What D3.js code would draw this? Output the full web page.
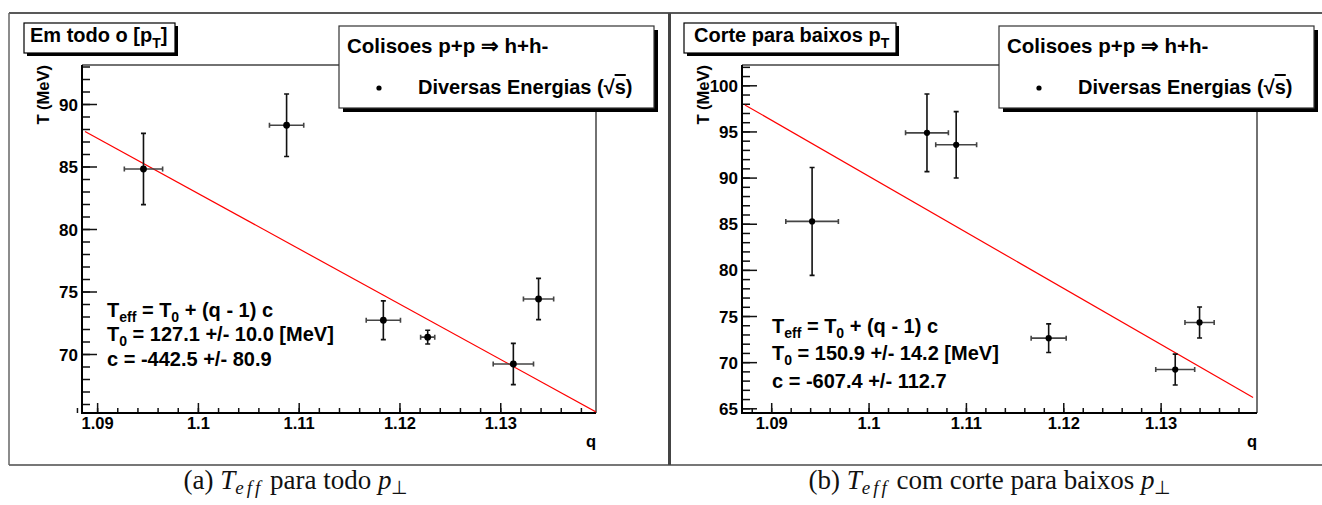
<!DOCTYPE html>
<html lang="en">
<head>
<meta charset="UTF-8">
<title>Teff vs q</title>
<script src="https://d3js.org/d3.v7.min.js"></script>
<style>
  body { margin: 0; background: #fff; }
  .b { font-family: "Liberation Sans", Arial, sans-serif; font-weight: bold; fill: #000; }
  .cap { font-family: "Liberation Serif", "Times New Roman", serif; font-size: 27px; fill: #111; }
</style>
</head>
<body>
<script>
// panel (a): all pT
var qA = [1.0946, 1.1088, 1.1184, 1.1228, 1.1313, 1.1338];
var qErrA = [0.0019, 0.0017, 0.0017, 0.0007, 0.0020, 0.0015];
var tA = [84.8, 88.3, 72.7, 71.35, 69.2, 74.4];
var tErrA = [2.85, 2.5, 1.55, 0.55, 1.65, 1.65];

// panel (b): low pT cut
var qB = [1.0942, 1.1060, 1.1090, 1.1185, 1.1315, 1.1340];
var qErrB = [0.0027, 0.0022, 0.0021, 0.0018, 0.0020, 0.0015];
var tB = [85.25, 94.85, 93.55, 72.6, 69.2, 74.3];
var tErrB = [5.85, 4.2, 3.6, 1.55, 1.67, 1.68];

// fit results
var fitT0 = [127.1, 150.9];
var fitC = [-442.5, -607.4];
var fitText = [
  ["127.1 +/- 10.0", "-442.5 +/- 80.9"],
  ["150.9 +/- 14.2", "-607.4 +/- 112.7"]
];
var titles = ["Em todo o [p", "Corte para baixos p"];
var titleEnd = ["]", ""];
var captions = ["para todo ", "com corte para baixos "];
var captionTag = ["(a) ", "(b) "];

var xTicks = [1.09, 1.1, 1.11, 1.12, 1.13];
var yTicksA = [70, 75, 80, 85, 90];
var yTicksB = [65, 70, 75, 80, 85, 90, 95, 100];

var svg = d3.select("body").append("svg")
  .attr("width", 1322).attr("height", 505);

// canvas borders
svg.append("line").attr("x1", 9).attr("x2", 1322).attr("y1", 13).attr("y2", 13)
  .attr("stroke", "#222").attr("stroke-width", 1.5);
svg.append("line").attr("x1", 9).attr("x2", 1322).attr("y1", 465).attr("y2", 465)
  .attr("stroke", "#777").attr("stroke-width", 2);
svg.append("line").attr("x1", 9).attr("x2", 9).attr("y1", 13).attr("y2", 465)
  .attr("stroke", "#666").attr("stroke-width", 1.5);
svg.append("line").attr("x1", 669.5).attr("x2", 669.5).attr("y1", 13).attr("y2", 465)
  .attr("stroke", "#444").attr("stroke-width", 3);

var panels = [
  { ox: 0, q: qA, qe: qErrA, t: tA, te: tErrA, xd: [1.0885, 1.1395], yd: [65.28, 93.12],
    yt: yTicksA, ymin: [66, 93], fr: [1.0888, 1.1395], titleW: 151,
    fx: 107, fy: [317, 341, 366], r: 3.4, capX: 296 },
  { ox: 660, q: qB, qe: qErrB, t: tB, te: tErrB, xd: [1.0870, 1.1399], yd: [64.49, 102.2],
    yt: yTicksB, ymin: [65, 102], fr: [1.0873, 1.1395], titleW: 212,
    fx: 772, fy: [333, 360, 388], r: 3.1, capX: 990 }
];

panels.forEach(function (p, i) {
  var L = 82 + p.ox, R = 596 + p.ox + (i ? 1 : 0), T = 65, B = 413;
  var x = d3.scaleLinear().domain(p.xd).range([L, R]);
  var y = d3.scaleLinear().domain(p.yd).range([B, T]);
  var g = svg.append("g");

  // frame top/right
  g.append("path").attr("d", "M" + L + "," + T + "H" + R + "V" + B)
    .attr("fill", "none").attr("stroke", "#444").attr("stroke-width", 1.5);

  // y axis: major + minor ticks
  var yMinor = d3.range(p.ymin[0], p.ymin[1] + 0.5, 1);
  g.append("g").attr("transform", "translate(" + L + ",0)")
    .call(d3.axisRight(y).tickValues(yMinor).tickSize(8).tickFormat(""))
    .call(function (a) { a.select(".domain").remove(); a.selectAll("line").attr("stroke", "#111").attr("stroke-width", 1.5); });
  var ya = g.append("g").attr("transform", "translate(" + L + ",0)")
    .call(d3.axisRight(y).tickValues(p.yt).tickSize(15).tickFormat(d3.format("d")));
  ya.select(".domain").remove();
  ya.selectAll("line").attr("stroke", "#111").attr("stroke-width", 1.5);
  ya.selectAll("text").attr("class", "b").attr("x", -4).attr("dy", "0.36em")
    .style("text-anchor", "end").style("font-size", "17px");

  // x axis: major + minor ticks
  var xMinor = d3.range(1.088, p.xd[1], 0.002);
  g.append("g").attr("transform", "translate(0," + B + ")")
    .call(d3.axisTop(x).tickValues(xMinor).tickSize(5).tickFormat(""))
    .call(function (a) { a.select(".domain").remove(); a.selectAll("line").attr("stroke", "#111").attr("stroke-width", 1.5); });
  var xa = g.append("g").attr("transform", "translate(0," + B + ")")
    .call(d3.axisTop(x).tickValues(xTicks).tickSize(10).tickFormat(function (d) { return String(+d.toFixed(2)); }));
  xa.select(".domain").remove();
  xa.selectAll("line").attr("stroke", "#111").attr("stroke-width", 1.5);
  xa.selectAll("text").attr("class", "b").attr("y", 16).attr("dy", 0)
    .style("font-size", "16.5px");

  // axis lines
  g.append("path").attr("d", "M" + L + "," + T + "V" + B + "H" + R)
    .attr("fill", "none").attr("stroke", "#000").attr("stroke-width", 2);

  // axis titles
  g.append("text").attr("class", "b").style("font-size", "16.5px")
    .attr("transform", "translate(" + (49 + p.ox) + "," + T + ") rotate(-90)")
    .style("text-anchor", "end").text("T (MeV)");
  g.append("text").attr("class", "b").style("font-size", "16.5px")
    .attr("x", R).attr("y", 447).style("text-anchor", "end").text("q");

  // fit line
  var clip = "clip" + i;
  svg.append("clipPath").attr("id", clip).append("rect")
    .attr("x", L).attr("y", T).attr("width", R - L).attr("height", B - T);
  var fitPts = p.fr.map(function (q) { return [q, fitT0[i] + (q - 1) * fitC[i]]; });
  g.append("path").attr("clip-path", "url(#" + clip + ")")
    .attr("d", d3.line().x(function (d) { return x(d[0]); }).y(function (d) { return y(d[1]); })(fitPts))
    .attr("stroke", "#f00").attr("stroke-width", 1.2).attr("fill", "none");

  // error bars and points
  var idx = d3.range(p.q.length);
  var eb = g.append("g");
  idx.forEach(function (k) {
    var cx = x(p.q[k]), cy = y(p.t[k]);
    var x0 = x(p.q[k] - p.qe[k]), x1 = x(p.q[k] + p.qe[k]);
    var y0 = y(p.t[k] - p.te[k]), y1 = y(p.t[k] + p.te[k]);
    eb.append("path")
      .attr("d", "M" + x0 + "," + cy + "H" + x1 + "M" + x0 + "," + (cy - 2.5) + "V" + (cy + 2.5) +
        "M" + x1 + "," + (cy - 2.5) + "V" + (cy + 2.5))
      .attr("stroke", "#444").attr("stroke-width", 1.6).attr("fill", "none");
    eb.append("path")
      .attr("d", "M" + cx + "," + y0 + "V" + y1 + "M" + (cx - 2.5) + "," + y0 + "H" + (cx + 2.5) +
        "M" + (cx - 2.5) + "," + y1 + "H" + (cx + 2.5))
      .attr("stroke", "#111").attr("stroke-width", 1.6).attr("fill", "none");
  });
  g.selectAll(".pt").data(idx).enter().append("circle")
    .attr("cx", function (k) { return x(p.q[k]); })
    .attr("cy", function (k) { return y(p.t[k]); })
    .attr("r", p.r).attr("fill", "#000");

  // fit text
  var ft = g.append("g").attr("class", "b").style("font-size", "20px");
  var l1 = ft.append("text").attr("x", p.fx).attr("y", p.fy[0]);
  l1.append("tspan").text("T");
  l1.append("tspan").attr("dy", 5).style("font-size", "14px").text("eff");
  l1.append("tspan").attr("dy", -5).text(" = T");
  l1.append("tspan").attr("dy", 5).style("font-size", "14px").text("0");
  l1.append("tspan").attr("dy", -5).text(" + (q - 1) c");
  var l2 = ft.append("text").attr("x", p.fx).attr("y", p.fy[1]);
  l2.append("tspan").text("T");
  l2.append("tspan").attr("dy", 5).style("font-size", "14px").text("0");
  l2.append("tspan").attr("dy", -5).text(" = " + fitText[i][0] + " [MeV]");
  ft.append("text").attr("x", p.fx).attr("y", p.fy[2]).text("c = " + fitText[i][1]);

  // title box
  var tb = g.append("g");
  tb.append("rect").attr("x", 24 + p.ox + 3).attr("y", 26).attr("width", p.titleW).attr("height", 30).attr("fill", "#000");
  tb.append("rect").attr("x", 24 + p.ox).attr("y", 23).attr("width", p.titleW).attr("height", 30)
    .attr("fill", "#fff").attr("stroke", "#000").attr("stroke-width", 1.2);
  var tt = tb.append("text").attr("class", "b").style("font-size", "20px")
    .attr("x", (i ? 694 : 30)).attr("y", 42);
  tt.append("tspan").text(titles[i]);
  tt.append("tspan").attr("dy", 6).style("font-size", "14px").text("T");
  tt.append("tspan").attr("dy", -6).text(titleEnd[i]);

  // legend box
  var lx = 339 + p.ox;
  var lg = g.append("g");
  lg.append("rect").attr("x", lx + 4).attr("y", 30).attr("width", 315).attr("height", 82).attr("fill", "#000");
  lg.append("rect").attr("x", lx).attr("y", 26).attr("width", 315).attr("height", 82)
    .attr("fill", "#fff").attr("stroke", "#333").attr("stroke-width", 1.2);
  lg.append("text").attr("class", "b").style("font-size", "20.5px")
    .attr("x", lx + 8).attr("y", 53).text("Colisoes p+p \u21D2 h+h-");
  lg.append("circle").attr("cx", lx + 40).attr("cy", 88).attr("r", 2.6).attr("fill", "#000");
  var le = lg.append("text").attr("class", "b").style("font-size", "20px")
    .attr("x", lx + 79).attr("y", 94);
  le.append("tspan").text("Diversas Energias (\u221A");
  le.append("tspan").style("text-decoration", "overline").text("s");
  le.append("tspan").text(")");

  // caption
  var cap = svg.append("text").attr("class", "cap")
    .attr("x", p.capX).attr("y", 489).style("text-anchor", "middle");
  cap.append("tspan").text(captionTag[i]);
  cap.append("tspan").style("font-style", "italic").text("T");
  cap.append("tspan").attr("dy", 5).style("font-style", "italic").style("font-size", "19px")
    .style("letter-spacing", "3px").text("eff");
  cap.append("tspan").attr("dy", -5).text(" " + captions[i]);
  cap.append("tspan").style("font-style", "italic").text("p");
  cap.append("tspan").attr("dy", 5).style("font-size", "19px").text("\u22A5");
});
</script>
</body>
</html>
